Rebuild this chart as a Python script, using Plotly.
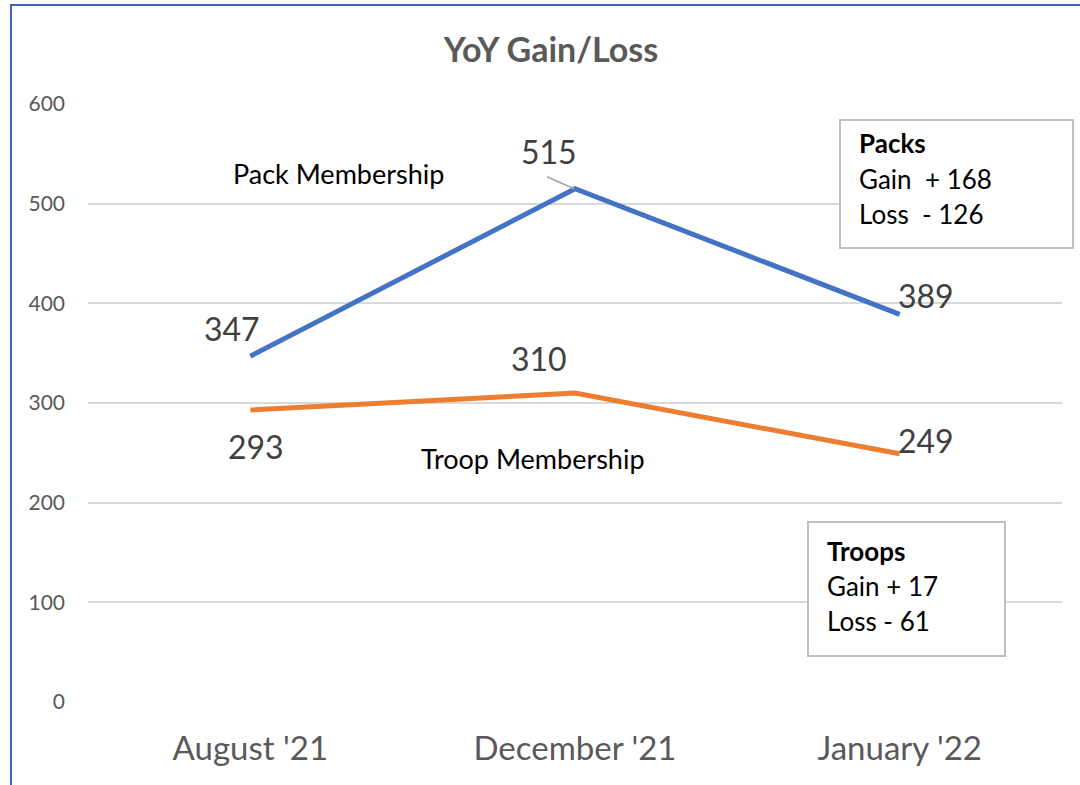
import plotly.graph_objects as go

categories = ["August '21", "December '21", "January '22"]
pack_values = [347, 515, 389]
troop_values = [293, 310, 249]
y_ticks = [0, 100, 200, 300, 400, 500, 600]
pack_label_shift = [(-18, 28), (-26, 37), (26, 19)]
troop_label_shift = [(6, -37), (-36, 35), (26, 13)]

W, H = 1080, 785
L, R, T, B = 88, 1062, 104, 702
FONT = "Lato"


def px(x):
    return (x - L) / (R - L)


def py(y):
    return (B - y) / (B - T)


fig = go.Figure()
fig.add_trace(go.Scatter(x=categories, y=pack_values, mode="lines",
                         line=dict(color="#4472C4", width=5), name="Pack Membership",
                         hoverinfo="skip"))
fig.add_trace(go.Scatter(x=categories, y=troop_values, mode="lines",
                         line=dict(color="#ED7D31", width=5), name="Troop Membership",
                         hoverinfo="skip"))

annotations = []
for c, v, (dx, dy) in zip(categories, pack_values, pack_label_shift):
    annotations.append(dict(x=c, y=v, xref="x", yref="y", text=str(v), showarrow=False,
                            xanchor="center", yanchor="middle",
                            xshift=dx, yshift=dy, font=dict(family=FONT, size=32, color="#404040")))
for c, v, (dx, dy) in zip(categories, troop_values, troop_label_shift):
    annotations.append(dict(x=c, y=v, xref="x", yref="y", text=str(v), showarrow=False,
                            xanchor="center", yanchor="middle",
                            xshift=dx, yshift=dy, font=dict(family=FONT, size=32, color="#404040")))

# series name labels
annotations.append(dict(x=px(338), y=py(173), xref="paper", yref="paper", text="Pack Membership",
                        xanchor="center", yanchor="middle",
                        showarrow=False, font=dict(family=FONT, size=27, color="#000000")))
annotations.append(dict(x=px(533), y=py(459), xref="paper", yref="paper", text="Troop Membership",
                        xanchor="center", yanchor="middle",
                        showarrow=False, font=dict(family=FONT, size=27, color="#000000")))

# info boxes text
pack_box_lines = ["<b>Packs</b>", "Gain  + 168", "Loss  - 126"]
for t, yy in zip(pack_box_lines, [143, 179, 214]):
    annotations.append(dict(x=px(857), y=py(yy), xref="paper", yref="paper", text=t,
                            xanchor="left", yanchor="middle", showarrow=False,
                            font=dict(family=FONT, size=26, color="#000000")))
troop_box_lines = ["<b>Troops</b>", "Gain + 17", "Loss - 61"]
for t, yy in zip(troop_box_lines, [551, 586, 621]):
    annotations.append(dict(x=px(825), y=py(yy), xref="paper", yref="paper", text=t,
                            xanchor="left", yanchor="middle", showarrow=False,
                            font=dict(family=FONT, size=26, color="#000000")))

shapes = [
    # outer chart border (blue)
    dict(type="rect", xref="paper", yref="paper", x0=px(11), x1=px(1200), y0=py(900), y1=py(5),
         line=dict(color="#3F66B0", width=2), fillcolor="rgba(0,0,0,0)", layer="above"),
    # white boxes behind series labels
    dict(type="rect", xref="paper", yref="paper", x0=px(212), x1=px(464), y0=py(210), y1=py(140),
         line=dict(width=0), fillcolor="white", layer="between"),
    dict(type="rect", xref="paper", yref="paper", x0=px(400), x1=px(705), y0=py(510), y1=py(430),
         line=dict(width=0), fillcolor="white", layer="between"),
    # info boxes
    dict(type="rect", xref="paper", yref="paper", x0=px(840), x1=px(1073), y0=py(248), y1=py(120),
         line=dict(color="#BFBFBF", width=2), fillcolor="white", layer="above"),
    dict(type="rect", xref="paper", yref="paper", x0=px(808), x1=px(1005), y0=py(656), y1=py(522),
         line=dict(color="#BFBFBF", width=2), fillcolor="white", layer="above"),
    # leader line for 515 label
    dict(type="line", xref="x", yref="y", xsizemode="pixel", ysizemode="pixel",
         xanchor=categories[1], yanchor=pack_values[1], x0=-28, x1=-1, y0=12, y1=0,
         line=dict(color="#A6A6A6", width=1.5), layer="above"),
]

fig.update_layout(
    width=W, height=H,
    margin=dict(l=L, r=W - R, t=T, b=H - B, pad=0),
    paper_bgcolor="white", plot_bgcolor="white",
    showlegend=False,
    title=dict(text="<b>YoY Gain/Loss</b>", x=551 / W, xanchor="center",
               y=1 - 50 / H, yanchor="middle",
               font=dict(family=FONT, size=34, color="#595959")),
    xaxis=dict(type="category", range=[-0.5, 2.5], showgrid=False, zeroline=False,
               showline=False, ticks="", ticklabelstandoff=24,
               tickfont=dict(family=FONT, size=33, color="#595959")),
    yaxis=dict(range=[0, 600], tickvals=y_ticks, showgrid=True, gridcolor="#D9D9D9",
               gridwidth=1.5, zeroline=False, showline=False, ticks="",
               ticklabelstandoff=22,
               tickfont=dict(family=FONT, size=21, color="#595959")),
    annotations=annotations,
    shapes=shapes,
)

fig.write_html("out.html")
